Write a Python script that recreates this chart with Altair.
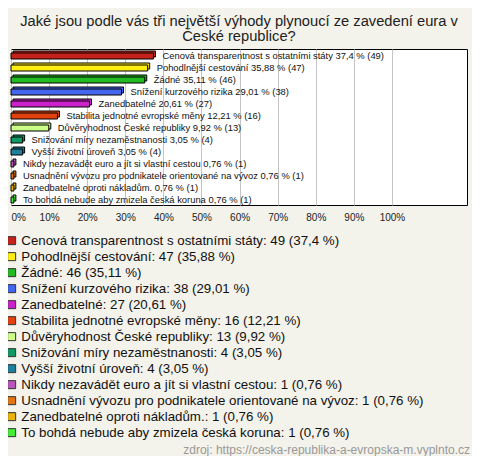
import altair as alt
import pandas as pd

title_lines = [
    "Jaké jsou podle vás tři největší výhody plynoucí ze zavedení eura v",
    "České republice?",
]
categories = [
    "Cenová transparentnost s ostatními státy",
    "Pohodlnější cestování",
    "Žádné",
    "Snížení kurzového rizika",
    "Zanedbatelné",
    "Stabilita jednotné evropské měny",
    "Důvěryhodnost České republiky",
    "Snižování míry nezaměstnanosti",
    "Vyšší životní úroveň",
    "Nikdy nezavádět euro a jít si vlastní cestou",
    "Usnadnění vývozu pro podnikatele orientované na vývoz",
    "Zanedbatelné oproti nákladům.",
    "To bohdá nebude aby zmizela česká koruna",
]
counts = [49, 47, 46, 38, 27, 16, 13, 4, 4, 1, 1, 1, 1]
percents = [37.4, 35.88, 35.11, 29.01, 20.61, 12.21, 9.92, 3.05, 3.05, 0.76, 0.76, 0.76, 0.76]
colors = ["#c4221a", "#ffee11", "#22bb22", "#4466ee", "#cc22cc", "#e2420e", "#ccff88",
          "#119966", "#1d7f99", "#bb55bb", "#e27411", "#e8b40a", "#44ee33"]
tick_values = [0, 10, 20, 30, 40, 50, 60, 70, 80, 90, 100]
source_text = "zdroj: https://ceska-republika-a-evropska-m.vyplnto.cz"


def fmt(p):
    return str(p).replace(".", ",")


bar_labels = [f"{c} {fmt(p)} % ({n})" for c, p, n in zip(categories, percents, counts)]
legend_labels = [f"{c}: {n} ({fmt(p)} %)" for c, p, n in zip(categories, percents, counts)]

df = pd.DataFrame({
    "cat": categories,
    "pct": percents,
    "label": bar_labels,
    "legend": legend_labels,
})

FONT = "Liberation Sans"

base = alt.Chart(df).encode(
    x=alt.X("pct:Q",
            scale=alt.Scale(domain=[0, 119.7], nice=False, zero=True),
            axis=alt.Axis(values=tick_values, labelExpr="datum.value + '%'", grid=True,
                          gridColor="#c4c4c4", gridWidth=1, domain=False, ticks=False,
                          labelFontSize=10, labelFont=FONT, labelColor="#222",
                          labelPadding=7, labelFlush=True, title=None)),
    y=alt.Y("cat:N", sort=categories, axis=None,
            scale=alt.Scale(paddingInner=0, paddingOuter=0)),
    color=alt.Color("legend:N",
                    scale=alt.Scale(domain=legend_labels, range=colors),
                    legend=alt.Legend(orient="none", legendX=-6, legendY=185, title=None,
                                      symbolType="square", symbolSize=64,
                                      symbolStrokeColor="#333", symbolStrokeWidth=1,
                                      symbolOpacity=1,
                                      labelFontSize=13.3, labelFont=FONT, labelColor="#111",
                                      labelLimit=800, labelOffset=3, rowPadding=2.0,
                                      padding=0, symbolOffset=0)),
)

back = base.mark_bar(size=6, yOffset=-1, xOffset=2, stroke="black", strokeWidth=1)
front = base.mark_bar(size=6, yOffset=1, stroke="black", strokeWidth=1)
texts = base.mark_text(align="left", baseline="middle", dx=9, dy=1, fontSize=9.4,
                       font=FONT).encode(text="label:N", color=alt.value("#111"))

one = pd.DataFrame({"t": [source_text]})
src = alt.Chart(one).mark_text(align="right", baseline="middle", fontSize=12, font=FONT,
                               color="#999").encode(
    text="t:N", x=alt.value(459), y=alt.value(401))

chart = alt.layer(back, front, texts, src).properties(
    width=456, height=156,
    title=alt.TitleParams(text=title_lines, fontSize=14.7, font=FONT, fontWeight="normal",
                          color="#222", anchor="middle", offset=5, lineHeight=15),
    background="#f3f2eb",
    padding={"left": 3, "top": 41, "right": 5, "bottom": 251},
    autosize=alt.AutoSizeParams(type="none"),
).configure_view(fill="white", stroke="black", strokeWidth=1)

chart.save("out.html", embed_options={"renderer": "svg", "actions": False})
